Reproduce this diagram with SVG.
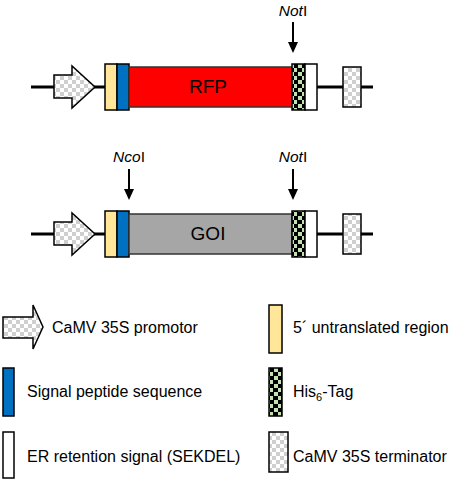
<svg xmlns="http://www.w3.org/2000/svg" width="454" height="482" viewBox="0 0 454 482">
<defs>
<pattern id="grey" patternUnits="userSpaceOnUse" width="8" height="8">
<rect width="8" height="8" fill="#ffffff"/>
<rect width="4" height="4" fill="#cfcfcf"/>
<rect x="4" y="4" width="4" height="4" fill="#cfcfcf"/>
</pattern>
<pattern id="his" patternUnits="userSpaceOnUse" width="8" height="8" x="1">
<rect width="8" height="8" fill="#000000"/>
<rect x="1" y="0" width="4" height="4" fill="#c5e0b3"/>
<rect x="5" y="4" width="4" height="4" fill="#c5e0b3"/>
</pattern>
<marker id="ah" markerWidth="11" markerHeight="10" refX="1" refY="5" orient="auto" markerUnits="userSpaceOnUse" viewBox="0 0 11 10">
<path d="M0,0 L11,5 L0,10 Z" fill="#000"/>
</marker>
</defs>
<style>
.box{stroke:#000;stroke-width:1.5}
.utr{fill:#ffe699}
.sp{fill:#0070c0}
.tag{fill:url(#his)}
.er{fill:#ffffff}
.term{fill:url(#grey)}
.prom{fill:url(#grey)}
.bb{stroke:#000;stroke-width:3;fill:none}
.site{stroke:#000;stroke-width:2;fill:none}
text{font-family:"Liberation Sans",Arial,sans-serif;fill:#000}
.lbl{font-size:15.5px;text-anchor:middle}
.leg{font-size:16px}
.big{font-size:19px;text-anchor:middle}
</style>

<g id="connectors">
<line class="bb" x1="31" y1="87" x2="106" y2="87"/>
<line class="bb" x1="317" y1="87" x2="373" y2="87"/>
<line class="bb" x1="31" y1="234" x2="106" y2="234"/>
<line class="bb" x1="317" y1="234" x2="373" y2="234"/>
<line class="site" x1="293" y1="22" x2="293" y2="43" marker-end="url(#ah)"/>
<line class="site" x1="129" y1="169" x2="129" y2="190" marker-end="url(#ah)"/>
<line class="site" x1="293" y1="169" x2="293" y2="190" marker-end="url(#ah)"/>
</g>

<g id="construct-rfp">
<g id="rfp-promoter"><path class="box prom" d="M54,75 H72 V66 L95,87 L72,108 V98 H54 Z"/></g>
<g id="rfp-utr"><rect class="box utr" x="105" y="64" width="12" height="46"/></g>
<g id="rfp-sp"><rect class="box sp" x="117" y="64" width="12" height="46"/></g>
<g id="rfp-gene"><rect x="129" y="67" width="163" height="40" fill="#ff0000" stroke="#333" stroke-width="1.5"/>
<text class="big" x="208" y="93">RFP</text></g>
<g id="rfp-his"><rect class="box tag" x="292" y="64" width="13" height="46"/></g>
<g id="rfp-er"><rect class="box er" x="305" y="64" width="12" height="46"/></g>
<g id="rfp-term"><rect class="box term" x="343" y="67" width="18" height="40"/></g>
<g id="rfp-noti"><text class="lbl" x="293" y="16"><tspan font-style="italic">Not</tspan>I</text></g>
</g>

<g id="construct-goi">
<g id="goi-promoter"><path class="box prom" d="M54,222 H72 V213 L95,234 L72,255 V245 H54 Z"/></g>
<g id="goi-utr"><rect class="box utr" x="105" y="211" width="12" height="46"/></g>
<g id="goi-sp"><rect class="box sp" x="117" y="211" width="12" height="46"/></g>
<g id="goi-gene"><rect x="129" y="214" width="163" height="40" fill="#a6a6a6" stroke="#333" stroke-width="1.5"/>
<text class="big" x="208" y="240">GOI</text></g>
<g id="goi-his"><rect class="box tag" x="292" y="211" width="13" height="46"/></g>
<g id="goi-er"><rect class="box er" x="305" y="211" width="12" height="46"/></g>
<g id="goi-term"><rect class="box term" x="343" y="214" width="18" height="40"/></g>
<g id="goi-ncoi"><text class="lbl" x="129" y="162"><tspan font-style="italic">Nco</tspan>I</text></g>
<g id="goi-noti"><text class="lbl" x="293" y="162"><tspan font-style="italic">Not</tspan>I</text></g>
</g>

<g id="legend">
<g id="leg-promoter"><path class="box prom" d="M3,317 H33 V305 L43,327 L33,349 V338 H3 Z"/>
<text class="leg" x="52" y="333">CaMV 35S promotor</text></g>
<g id="leg-sp"><rect class="box sp" x="3" y="368" width="11" height="48"/>
<text class="leg" x="27" y="397">Signal peptide sequence</text></g>
<g id="leg-er"><rect class="box er" x="3" y="432" width="11" height="46"/>
<text class="leg" x="27" y="462">ER retention signal (SEKDEL)</text></g>
<g id="leg-utr"><rect class="box utr" x="269" y="305" width="13" height="48"/>
<text class="leg" x="293" y="333">5´ untranslated region</text></g>
<g id="leg-his"><rect class="box tag" x="269" y="368" width="13" height="48"/>
<text class="leg" x="293" y="397">His<tspan font-size="11" dy="4">6</tspan><tspan dy="-4">-Tag</tspan></text></g>
<g id="leg-term"><rect class="box term" x="269" y="432" width="19" height="40"/>
<text class="leg" x="293" y="462">CaMV 35S terminator</text></g>
</g>
</svg>
